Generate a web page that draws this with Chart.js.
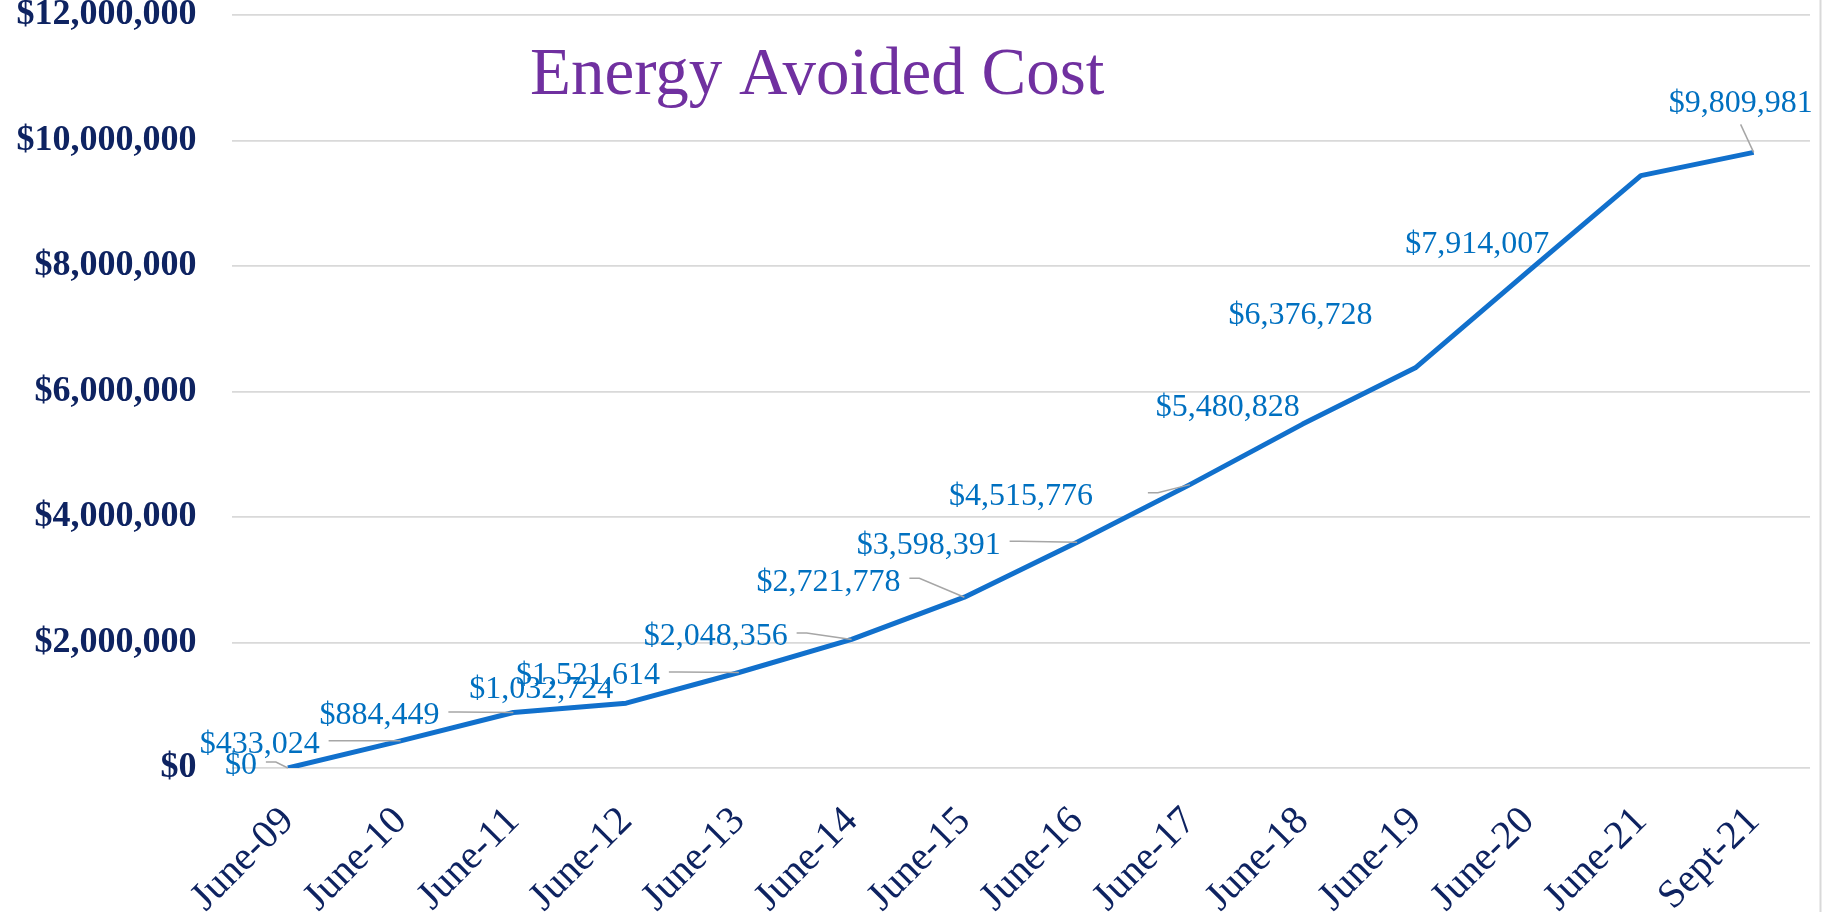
<!DOCTYPE html>
<html>
<head>
<meta charset="utf-8">
<script src="https://cdn.jsdelivr.net/npm/chart.js@4.4.1/dist/chart.umd.min.js"></script>
<style>
html,body{margin:0;padding:0;background:#ffffff;overflow:hidden}
#wrap{position:relative;width:1833px;height:912px}
</style>
</head>
<body>
<div id="wrap"><canvas id="c" width="1833" height="912"></canvas></div>
<script>
// ---- data ----
const categories = ['June-09','June-10','June-11','June-12','June-13','June-14','June-15','June-16','June-17','June-18','June-19','June-20','June-21','Sept-21'];
const avoidedCost = [0, 433024, 884449, 1032724, 1521614, 2048356, 2721778, 3598391, 4515776, 5480828, 6376728, 7914007, 9440000, 9809981];
const yTickValues = [0, 2000000, 4000000, 6000000, 8000000, 10000000, 12000000];
const chartTitle = 'Energy Avoided Cost';

const fmt = v => '$' + Math.round(v).toLocaleString('en-US');

const titlePlugin = {
  id: 'slideTitle',
  afterDraw(chart, args, opts) {
    const {ctx, chartArea} = chart;
    ctx.save();
    ctx.font = opts.font;
    ctx.fillStyle = opts.color;
    ctx.textAlign = 'left';
    ctx.textBaseline = 'alphabetic';
    ctx.fillText(opts.text, chartArea.left + opts.dx, chartArea.top + opts.dy);
    ctx.restore();
  }
};

const frameLinePlugin = {
  id: 'frameLine',
  afterDraw(chart, args, opts) {
    const {ctx, chartArea} = chart;
    ctx.save();
    ctx.strokeStyle = opts.color;
    ctx.lineWidth = opts.width;
    ctx.beginPath();
    ctx.moveTo(chartArea.right + opts.gap, 0);
    ctx.lineTo(chartArea.right + opts.gap, chart.height);
    ctx.stroke();
    ctx.restore();
  }
};

const dataLabelPlugin = {
  id: 'calloutLabels',
  afterDatasetsDraw(chart, args, opts) {
    const {ctx} = chart;
    const meta = chart.getDatasetMeta(0);
    const values = chart.data.datasets[0].data;
    ctx.save();
    ctx.font = opts.font;
    meta.data.forEach((pt, i) => {
      const off = opts.offsets[i];
      if (!off) return;
      const px = pt.x, py = pt.y;
      const cx = px + off[0], cy = py + off[1];
      const text = fmt(values[i]);
      const w = ctx.measureText(text).width;
      if (off[2]) {
        ctx.strokeStyle = opts.leaderColor;
        ctx.lineWidth = opts.leaderWidth;
        ctx.beginPath();
        if (off[2] === 'below') {
          ctx.moveTo(cx, cy + 21);
          ctx.lineTo(px, py);
        } else {
          const gap = off[3] || 9;
          const x0 = cx + w / 2 + gap;
          const y0 = cy - 4;
          ctx.moveTo(x0, y0);
          const x1 = Math.min(x0 + 10, px);
          ctx.lineTo(x1, y0);
          ctx.lineTo(px, py);
        }
        ctx.stroke();
      }
      ctx.fillStyle = opts.color;
      ctx.textAlign = 'center';
      ctx.textBaseline = 'middle';
      ctx.fillText(text, cx, cy);
    });
    ctx.restore();
  }
};

new Chart(document.getElementById('c'), {
  type: 'line',
  data: {
    labels: categories,
    datasets: [{
      data: avoidedCost,
      borderColor: '#1170CC',
      borderWidth: 5,
      pointRadius: 0,
      pointHoverRadius: 0,
      tension: 0,
      fill: false,
      borderJoinStyle: 'round'
    }]
  },
  options: {
    responsive: false,
    animation: false,
    devicePixelRatio: 1,
    layout: { padding: { top: 15, right: 23, bottom: 0, left: 0 }, autoPadding: false },
    plugins: {
      legend: { display: false },
      tooltip: { enabled: false },
      title: { display: false },
      slideTitle: { text: chartTitle, font: '67px "Liberation Serif"', color: '#7030A0', dx: 298.5, dy: 79 },
      frameLine: { color: '#D9D9D9', width: 2, gap: 10.5 },
      calloutLabels: {
        font: '32px "Liberation Serif"',
        color: '#0070C0',
        leaderColor: '#A6A6A6',
        leaderWidth: 1.5,
        offsets: [
          [-47, -2, true],
          [-141, 4, true],
          [-134, 3.5, true],
          [-85, -14, false],
          [-151, 3.5, true],
          [-136, -2.5, true],
          [-136, -15, true],
          [-148.5, 3, true],
          [-169, 12, true, 55],
          [-75, -16, false],
          [-115, -52, false],
          [-51, -27, false],
          null,
          [-13, -49, 'below']
        ]
      }
    },
    scales: {
      x: {
        offset: true,
        grid: { display: false, drawTicks: false },
        border: { display: false },
        ticks: {
          autoSkip: false,
          minRotation: 45,
          maxRotation: 45,
          padding: 30,
          color: '#0E2361',
          font: { family: 'Liberation Serif', size: 40 }
        },
        afterFit(scale) { scale.height = 144; scale.paddingLeft = 0; scale.paddingRight = 0; }
      },
      y: {
        min: 0,
        max: 12000000,
        afterBuildTicks(scale) { scale.ticks = yTickValues.map(v => ({ value: v })); },
        grid: { color: '#D9D9D9', lineWidth: 1.8, drawTicks: false },
        border: { display: false },
        ticks: {
          padding: 35,
          color: '#0E2361',
          font: { family: 'Liberation Serif', size: 36, weight: 'bold' },
          callback: v => fmt(v)
        },
        afterFit(scale) { scale.width = 231.5; scale.paddingTop = 0; scale.paddingBottom = 0; }
      }
    }
  },
  plugins: [titlePlugin, frameLinePlugin, dataLabelPlugin]
});
</script>
</body>
</html>
